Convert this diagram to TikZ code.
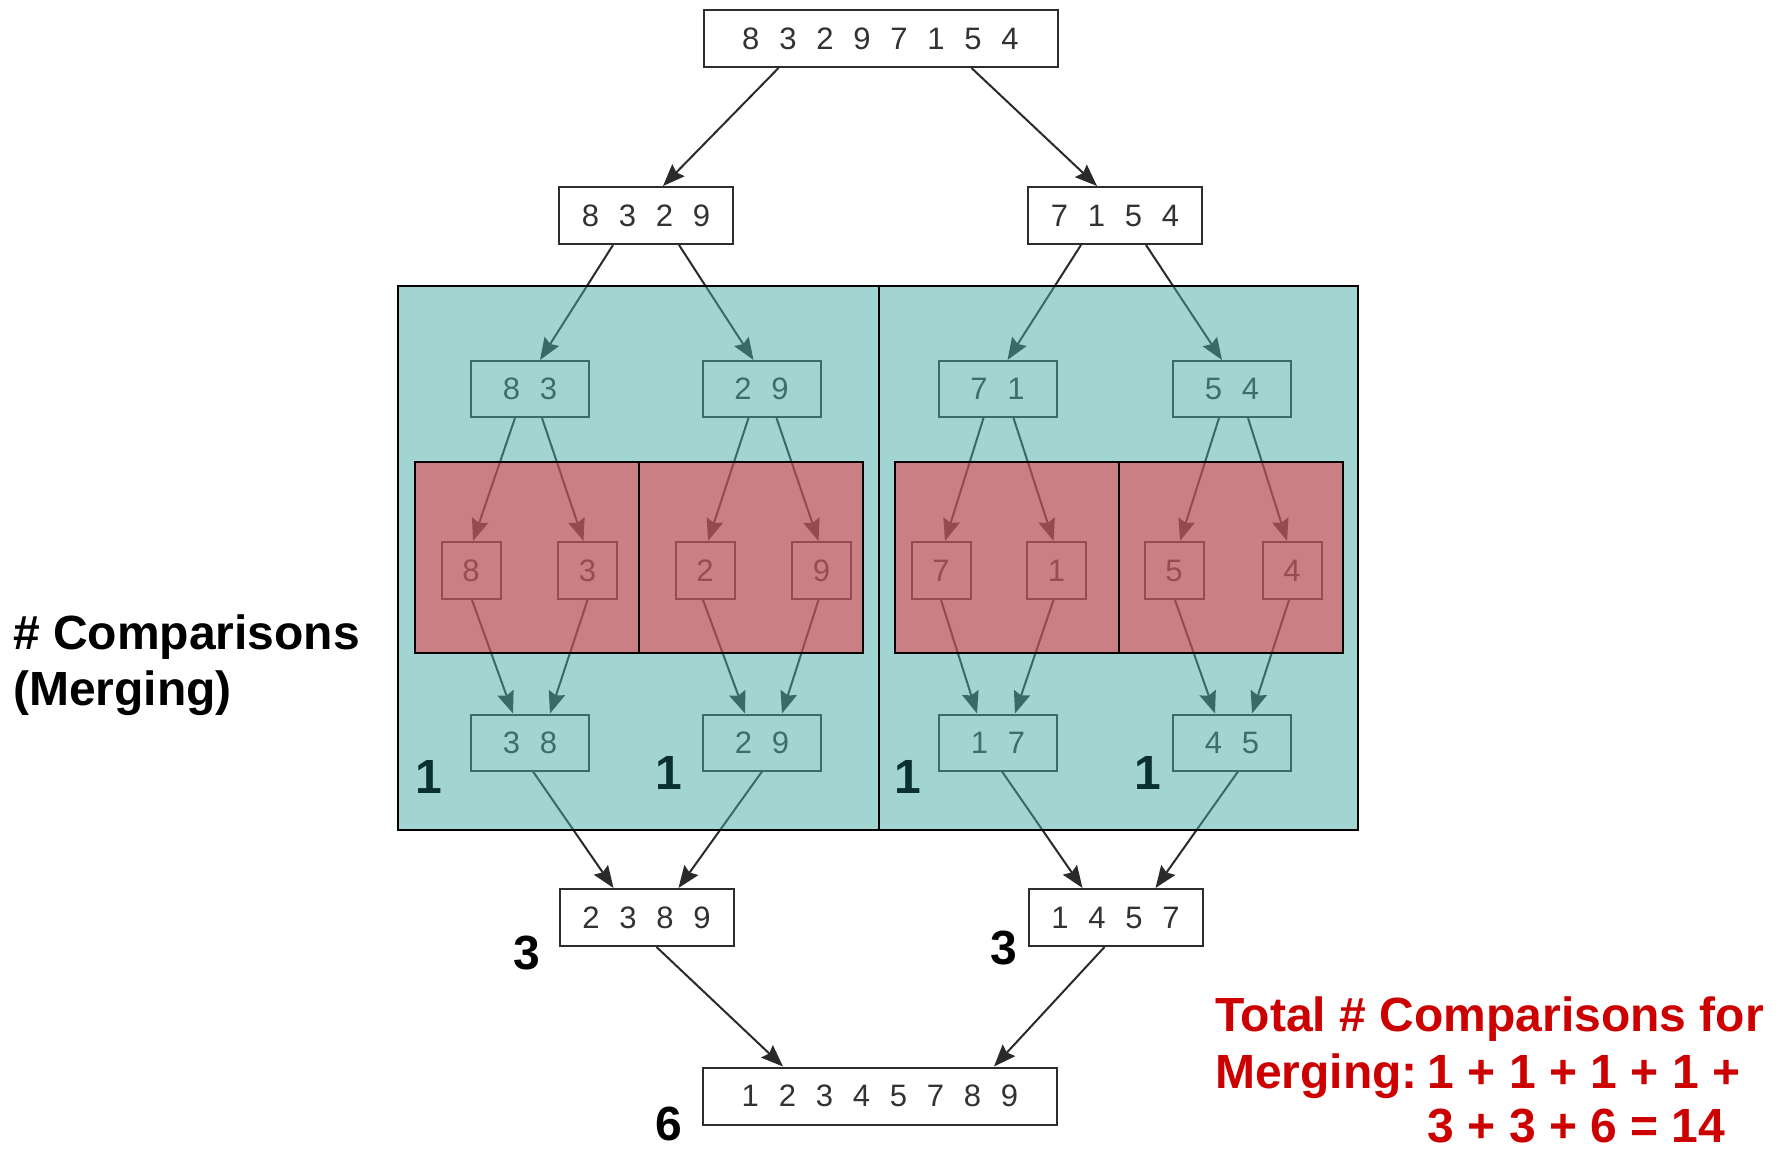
\documentclass[tikz,border=0pt]{standalone}
\usepackage{fontspec}
\setmainfont{Liberation Sans}
\usetikzlibrary{arrows.meta}

\definecolor{boxline}{RGB}{45,45,45}
\definecolor{boxtext}{RGB}{50,50,50}
\definecolor{arrowcol}{RGB}{42,42,42}
\definecolor{tealtint}{RGB}{71,173,167}
\definecolor{redtint}{RGB}{241,42,53}
\definecolor{darkteal}{RGB}{10,48,48}
\definecolor{totalred}{RGB}{204,0,0}

% digits in the boxes: light sans with wide, even spacing
\newcommand\numfont{\fontsize{31pt}{31pt}\selectfont\spaceskip=19.8pt\relax}
% bold labels and captions
\newcommand\labfont{\fontsize{48pt}{57pt}\selectfont\bfseries}

\tikzset{
  numbox/.style={draw=boxline, line width=2pt, inner sep=0pt, font=\numfont, text=boxtext},
  widebox/.style={numbox, minimum width=354pt, minimum height=57pt},
  halfbox/.style={numbox, minimum width=174pt, minimum height=57pt},
  pairbox/.style={numbox, minimum width=118pt, minimum height=56pt},
  onebox/.style={numbox, minimum width=59pt, minimum height=57pt},
  link/.style={draw=arrowcol, line width=2pt, -{Stealth[length=22pt,width=17pt,inset=3pt]}},
  countlab/.style={font=\labfont, inner sep=0pt},
  caption/.style={font=\labfont, inner sep=0pt, anchor=base west},
  region/.style={draw=black, line width=2pt},
}

\begin{document}
\begin{tikzpicture}[x=1pt, y=-1pt]
\useasboundingbox (0,0) rectangle (1785,1149);
\fill[white] (0,0) rectangle (1785,1149);

% ---- split levels ----
\node[widebox] (t) at (880.5,38.5) {8 3 2 9 7 1 5 4};
\node[halfbox] (l) at (646,215.5) {8 3 2 9};
\node[halfbox] (r) at (1115,215.5) {7 1 5 4};
\node[pairbox] (ll) at (530,389) {8 3};
\node[pairbox] (lr) at (761.5,389) {2 9};
\node[pairbox] (rl) at (997.5,389) {7 1};
\node[pairbox] (rr) at (1232,389) {5 4};
\node[onebox] (s1) at (471,570.5) {8};
\node[onebox] (s2) at (587.5,570.5) {3};
\node[onebox] (s3) at (705,570.5) {2};
\node[onebox] (s4) at (821.5,570.5) {9};
\node[onebox] (s5) at (941,570.5) {7};
\node[onebox] (s6) at (1056.5,570.5) {1};
\node[onebox] (s7) at (1174,570.5) {5};
\node[onebox] (s8) at (1292,570.5) {4};

% ---- merge levels ----
\node[pairbox] (m1) at (530,742.5) {3 8};
\node[pairbox] (m2) at (762,742.5) {2 9};
\node[pairbox] (m3) at (998,742.5) {1 7};
\node[pairbox] (m4) at (1232,742.5) {4 5};
\node[halfbox] (ml) at (646.5,917.5) {2 3 8 9};
\node[halfbox] (mr) at (1115.5,917.5) {1 4 5 7};
\node[widebox] (f) at (880,1096) {1 2 3 4 5 7 8 9};

% ---- split arrows ----
\draw[link] ([xshift=-102pt]t.south) -- ([xshift=17pt]l.north);
\draw[link] ([xshift=91pt]t.south) -- ([xshift=-18pt]r.north);
\draw[link] ([xshift=-33pt]l.south) -- ([xshift=10pt]ll.north);
\draw[link] ([xshift=33pt]l.south) -- ([xshift=-8pt]lr.north);
\draw[link] ([xshift=-34pt]r.south) -- ([xshift=10pt]rl.north);
\draw[link] ([xshift=31pt]r.south) -- ([xshift=-10pt]rr.north);
\draw[link] ([xshift=-15pt]ll.south) -- ([xshift=2pt]s1.north);
\draw[link] ([xshift=12pt]ll.south) -- ([xshift=-4pt]s2.north);
\draw[link] ([xshift=-13pt]lr.south) -- ([xshift=3pt]s3.north);
\draw[link] ([xshift=15pt]lr.south) -- ([xshift=-3pt]s4.north);
\draw[link] ([xshift=-14pt]rl.south) -- ([xshift=4pt]s5.north);
\draw[link] ([xshift=16pt]rl.south) -- ([xshift=-3pt]s6.north);
\draw[link] ([xshift=-13pt]rr.south) -- ([xshift=6pt]s7.north);
\draw[link] ([xshift=16pt]rr.south) -- ([xshift=-5pt]s8.north);

% ---- merge arrows ----
\draw[link] ([xshift=1pt]s1.south) -- ([xshift=-17pt]m1.north);
\draw[link] (s2.south) -- ([xshift=20pt]m1.north);
\draw[link] ([xshift=-2pt]s3.south) -- ([xshift=-17pt]m2.north);
\draw[link] ([xshift=-3pt]s4.south) -- ([xshift=20pt]m2.north);
\draw[link] (s5.south) -- ([xshift=-21pt]m3.north);
\draw[link] ([xshift=-3pt]s6.south) -- ([xshift=17pt]m3.north);
\draw[link] ([xshift=1pt]s7.south) -- ([xshift=-17pt]m4.north);
\draw[link] ([xshift=-3pt]s8.south) -- ([xshift=20pt]m4.north);
\draw[link] ([xshift=3pt]m1.south) -- ([xshift=-33pt]ml.north);
\draw[link] (m2.south) -- ([xshift=32pt]ml.north);
\draw[link] ([xshift=4pt]m3.south) -- ([xshift=-33pt]mr.north);
\draw[link] ([xshift=6pt]m4.south) -- ([xshift=40pt]mr.north);
\draw[link] ([xshift=10pt]ml.south) -- ([xshift=-97pt]f.north);
\draw[link] ([xshift=-11pt]mr.south) -- ([xshift=114pt]f.north);

% ---- tinted regions laid over the tree ----
\fill[tealtint, fill opacity=0.5] (398,286) rectangle (1358,830);
\fill[redtint, fill opacity=0.5] (415,462) rectangle (863,653);
\fill[redtint, fill opacity=0.5] (895,462) rectangle (1343,653);
\draw[region] (398,286) rectangle (879,830) (879,286) rectangle (1358,830);
\draw[region] (415,462) rectangle (639,653) (639,462) rectangle (863,653);
\draw[region] (895,462) rectangle (1119,653) (1119,462) rectangle (1343,653);

% ---- comparison counts ----
\node[countlab, text=darkteal] (c1) at (429,777) {1};
\node[countlab, text=darkteal] (c2) at (668.5,773) {1};
\node[countlab, text=darkteal] (c3) at (907.5,777) {1};
\node[countlab, text=darkteal] (c4) at (1148,773) {1};
\node[countlab] (c5) at (527,953) {3};
\node[countlab] (c6) at (1004,948) {3};
\node[countlab] (c7) at (669,1124) {6};

% ---- captions ----
\node[caption] (cap1) at (13,649) {\# Comparisons};
\node[caption] (cap2) at (13,705) {(Merging)};
\node[caption, text=totalred] (tot1) at (1215,1031) {Total \# Comparisons for};
\node[caption, text=totalred] (tot2) at (1215,1088) {Merging:\hspace{10pt}1 + 1 + 1 + 1 +};
\node[caption, text=totalred] (tot3) at (1215,1142) {\hphantom{Merging:\hspace{10pt}}3 + 3 + 6 = 14};
\end{tikzpicture}
\end{document}
